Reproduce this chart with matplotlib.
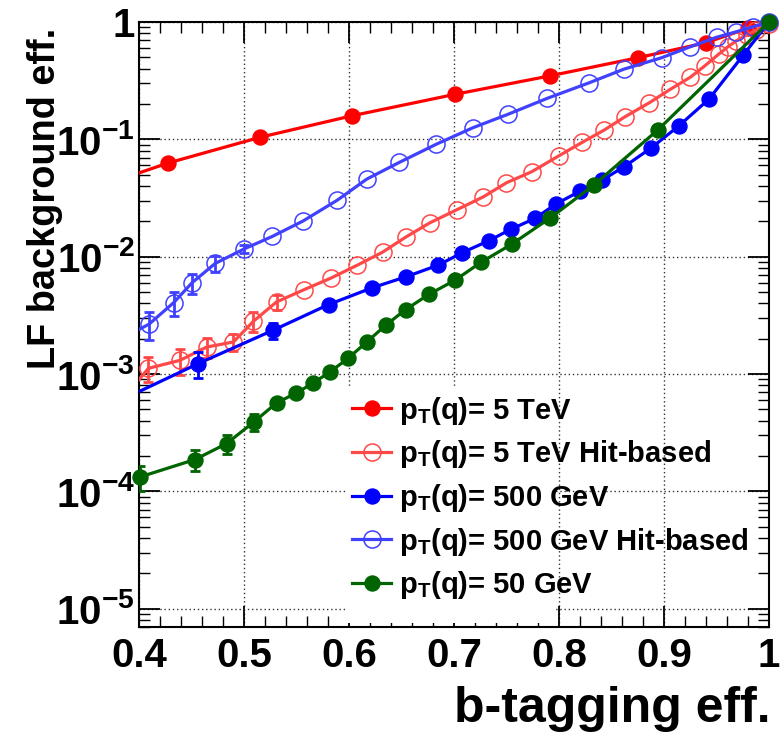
import numpy as np
import matplotlib
matplotlib.use("Agg")
import matplotlib.pyplot as plt
from matplotlib import font_manager
from matplotlib.lines import Line2D
from matplotlib.patches import Rectangle
from matplotlib.ticker import FixedLocator, FuncFormatter, LogLocator, MultipleLocator

plt.rcParams['font.family'] = ['Liberation Sans', 'DejaVu Sans']
plt.rcParams['font.weight'] = 'bold'
plt.rcParams['mathtext.fontset'] = 'custom'
plt.rcParams['mathtext.rm'] = 'Liberation Sans:bold'
plt.rcParams['mathtext.it'] = 'Liberation Sans:bold'
plt.rcParams['mathtext.bf'] = 'Liberation Sans:bold'
plt.rcParams['mathtext.default'] = 'rm'

# ----- data (b-tag eff vs LF mistag eff) -----
# first point of some series sits left of 0.4 so the line runs to the frame
x_5tev = [0.34, 0.428, 0.515, 0.603, 0.701, 0.791, 0.875, 0.940, 0.980, 1.0]
y_5tev = [0.034, 0.063, 0.104, 0.159, 0.242, 0.347, 0.496, 0.666, 0.884, 1.0]

x_5tev_hit = [0.38, 0.409, 0.439, 0.4645, 0.490, 0.509, 0.531, 0.557, 0.583, 0.608,
              0.632, 0.654, 0.677, 0.703, 0.728, 0.750, 0.774, 0.800, 0.822, 0.843,
              0.863, 0.886, 0.906, 0.925, 0.939, 0.952, 0.961, 0.969, 0.979, 0.988, 1.0]
y_5tev_hit = [5.5e-4, 1.12e-3, 1.31e-3, 1.70e-3, 1.88e-3, 2.82e-3, 4.12e-3, 5.23e-3, 6.59e-3, 8.48e-3,
              0.01094, 0.01469, 0.01945, 0.0252, 0.0324, 0.0427, 0.053, 0.0725, 0.0942, 0.12,
              0.156, 0.205, 0.267, 0.338, 0.424, 0.531, 0.616, 0.693, 0.776, 0.855, 0.97]
e_5tev_hit = [np.nan, 0.27e-3, 0.33e-3, 0.34e-3, 0.30e-3, 0.54e-3, 0.58e-3]

x_500 = [0.36, 0.4565, 0.528, 0.5805, 0.6216, 0.6546, 0.685, 0.708, 0.733, 0.754,
         0.777, 0.797, 0.820, 0.841, 0.862, 0.888, 0.914, 0.943, 0.9755, 1.0]
y_500 = [4.8e-4, 1.23e-3, 2.37e-3, 3.91e-3, 5.42e-3, 6.76e-3, 8.48e-3, 0.01084, 0.01367, 0.0171,
         0.0212, 0.0281, 0.0362, 0.045, 0.0584, 0.0848, 0.13, 0.221, 0.523, 1.0]
e_500 = [np.nan, 0.30e-3, 0.38e-3]

x_500_hit = [0.37, 0.4095, 0.433, 0.4505, 0.4726, 0.500, 0.527, 0.556, 0.589, 0.617,
             0.648, 0.683, 0.718, 0.751, 0.789, 0.829, 0.862, 0.898, 0.925, 0.950,
             0.969, 0.985, 1.0]
y_500_hit = [1.74e-3, 2.66e-3, 4.06e-3, 6.0e-3, 8.77e-3, 0.01164, 0.0149, 0.0201, 0.0304, 0.0459,
             0.0637, 0.0908, 0.1256, 0.163, 0.224, 0.304, 0.397, 0.497, 0.615, 0.741,
             0.826, 0.912, 1.0]
e_500_hit = [np.nan, 0.72e-3, 0.93e-3, 1.14e-3, 1.4e-3, 0.9e-3]

x_50 = [0.401, 0.4533, 0.4835, 0.5095, 0.531, 0.550, 0.566, 0.582, 0.599, 0.617,
        0.635, 0.654, 0.6765, 0.701, 0.7254, 0.755, 0.791, 0.833, 0.894, 1.0]
y_50 = [1.33e-4, 1.87e-4, 2.56e-4, 3.92e-4, 5.68e-4, 6.91e-4, 8.41e-4, 1.045e-3, 1.36e-3, 1.88e-3,
        2.61e-3, 3.55e-3, 4.8e-3, 6.31e-3, 8.93e-3, 0.0128, 0.0212, 0.0407, 0.12, 1.0]
e_50 = [0.32e-4, 0.37e-4, 0.49e-4, 0.63e-4, 0.55e-4]

series = [
    (x_5tev, y_5tev, None, '#ff0000', True, r'$\mathrm{p_{T}}$(q)= 5 TeV'),
    (x_5tev_hit, y_5tev_hit, e_5tev_hit, '#ff4848', False, r'$\mathrm{p_{T}}$(q)= 5 TeV Hit-based'),
    (x_500, y_500, e_500, '#0000ff', True, r'$\mathrm{p_{T}}$(q)= 500 GeV'),
    (x_500_hit, y_500_hit, e_500_hit, '#4040ff', False, r'$\mathrm{p_{T}}$(q)= 500 GeV Hit-based'),
    (x_50, y_50, e_50, '#006400', True, r'$\mathrm{p_{T}}$(q)= 50 GeV'),
]

fig = plt.figure(figsize=(7.8, 7.37), dpi=100)
ax = fig.add_axes([139 / 780, 1 - 627 / 737, 630 / 780, 605 / 737])
ax.set_yscale('log')
ax.set_xlim(0.4, 1.0)
ax.set_ylim(7.0e-6, 1.0)

ax.set_axisbelow(True)
ax.grid(True, which='major', linestyle=(0, (1, 2)), color='#333333', linewidth=1.0)

# white legend pad, covers grid only
ax.add_patch(Rectangle((0.598, 7.6e-6), 0.199, 7.9e-4 - 7.6e-6, facecolor='white',
                       edgecolor='none', zorder=1))

handles = []
for k, (xs, ys, es, col, filled, lab) in enumerate(series):
    xs = np.array(xs)
    ys = np.array(ys)
    z = 3 + k
    ax.plot(xs, ys, '-', color=col, lw=2.3, zorder=z)
    inside = xs >= 0.4
    if filled:
        mk = dict(marker='o', ms=10.8, mfc=col, mec=col, mew=1.0)
    else:
        mk = dict(marker='o', ms=12.3, mfc='none', mec=col, mew=1.1)
    ax.plot(xs[inside], ys[inside], ls='none', clip_on=False, zorder=z, **mk)
    if es is not None:
        n = len(es)
        ax.errorbar(xs[:n], ys[:n], yerr=np.array(es), fmt='none', ecolor=col,
                    elinewidth=2.0, capsize=3.5, capthick=2.0, zorder=z)
    handles.append(Line2D([], [], color=col, lw=2.3, label=lab, **mk))

# ROOT-like ticks
ax.xaxis.set_major_locator(MultipleLocator(0.1))
ax.xaxis.set_minor_locator(MultipleLocator(0.02))
ax.yaxis.set_major_locator(FixedLocator([1e-5, 1e-4, 1e-3, 1e-2, 1e-1, 1.0]))
ax.yaxis.set_minor_locator(LogLocator(base=10, subs=np.arange(2, 10), numticks=20))
ax.xaxis.set_major_formatter(FuncFormatter(lambda v, p: '1' if abs(v - 1) < 1e-9 else '%.1f' % v))


def ylab(v, p):
    if abs(v - 1) < 1e-12:
        return '1'
    return r'$\mathrm{10^{%d}}$' % int(round(np.log10(v)))


ax.yaxis.set_major_formatter(FuncFormatter(ylab))
ax.tick_params(which='both', direction='in', top=True, right=True, color='black')
ax.tick_params(which='major', length=15, width=1.3)
ax.tick_params(which='minor', length=8, width=1.0)
ax.tick_params(axis='x', which='major', labelsize=29, pad=7)
ax.tick_params(axis='y', which='major', labelsize=29, pad=3)
for sp in ax.spines.values():
    sp.set_linewidth(1.5)

ax.set_xlabel('b-tagging eff.', fontsize=36, fontweight='bold', loc='right')
ax.xaxis.set_label_coords(1.003, -0.098)
ax.xaxis.label.set_va('top')

# the reference y title is tall but short along its length: narrow face if present
names = {f.name for f in font_manager.fontManager.ttflist}
if 'Liberation Sans Narrow' in names:
    ax.set_ylabel('LF background eff.', fontsize=34, fontweight='bold', loc='top',
                  family=['Liberation Sans Narrow', 'Liberation Sans'])
else:
    ax.set_ylabel('LF background eff.', fontsize=27.3, fontweight='bold', loc='top')
ax.yaxis.set_label_coords(-0.12, 0.99)

ax.legend(handles=handles, loc='upper left', bbox_to_anchor=(0.338, 0.384), frameon=False,
          fontsize=21, handlelength=1.35, handletextpad=0.25, labelspacing=0.40,
          borderpad=0, borderaxespad=0)

plt.savefig('out.png', dpi=100)
